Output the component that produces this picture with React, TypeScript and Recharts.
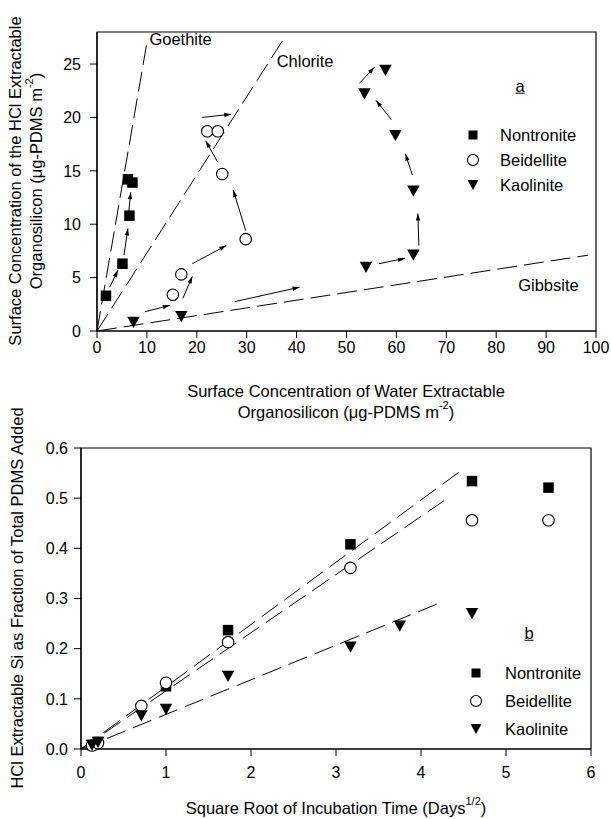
import { Fragment } from "react";
import {
  ScatterChart,
  Scatter,
  XAxis,
  YAxis,
  ReferenceLine,
  ReferenceArea,
  ReferenceDot,
  Legend,
} from "recharts";

const FONT = "'Liberation Sans', Arial, Helvetica, sans-serif";
const INK = "#000";

type Pt = { x: number; y: number };
type Seg = [number, number, number, number];

// ---- panel a: HCl vs water extractable organosilicon (µg-PDMS m-2) ----
const aTicksX = [0, 10, 20, 30, 40, 50, 60, 70, 80, 90, 100];
const aTicksY = [0, 5, 10, 15, 20, 25];

const aNontronite: Pt[] = [
  { x: 1.8, y: 3.3 },
  { x: 5.1, y: 6.3 },
  { x: 6.5, y: 10.8 },
  { x: 6.2, y: 14.2 },
  { x: 7.1, y: 13.9 },
];
const aBeidellite: Pt[] = [
  { x: 15.2, y: 3.4 },
  { x: 16.9, y: 5.3 },
  { x: 29.8, y: 8.6 },
  { x: 25.1, y: 14.7 },
  { x: 22.1, y: 18.7 },
  { x: 24.2, y: 18.7 },
];
const aKaolinite: Pt[] = [
  { x: 7.3, y: 0.8 },
  { x: 16.9, y: 1.35 },
  { x: 53.9, y: 5.95 },
  { x: 63.4, y: 7.1 },
  { x: 63.4, y: 13.1 },
  { x: 59.8, y: 18.3 },
  { x: 53.6, y: 22.2 },
  { x: 57.8, y: 24.4 },
];

// reference mineral lines through the origin, and where their names sit
const aGoethite: Seg = [0, 0, 10, 27];
const aChlorite: Seg = [0, 0, 37.2, 27.2];
const aGibbsite: Seg = [0, 0, 98.4, 7.1];
const aLineNames = [
  { name: "Goethite", x: 10.5, y: 27.3 },
  { name: "Chlorite", x: 36, y: 25.3 },
  { name: "Gibbsite", x: 84.4, y: 4.3 },
];

// arrows showing the order of sampling
const aArrows: Seg[] = [
  [2.55, 4.1, 4.2, 5.7],
  [5.4, 7.1, 6.2, 9.6],
  [6.2, 10.4, 6.75, 13.0],
  [17.2, 3.05, 19.1, 5.1],
  [19.1, 6.3, 25.9, 8.0],
  [29.8, 9.4, 27.3, 13.2],
  [24.2, 15.8, 21.8, 17.8],
  [21.1, 20.0, 26.9, 20.3],
  [9.6, 1.8, 14.6, 2.4],
  [27.6, 2.75, 40.6, 4.1],
  [56.5, 6.3, 61.7, 6.8],
  [64.5, 8.0, 64.3, 11.0],
  [63.2, 14.6, 61.8, 16.6],
  [59.0, 19.8, 55.9, 21.6],
  [52.6, 23.2, 55.6, 24.7],
];

// ---- panel b: HCl extractable fraction vs sqrt(days) ----
const bTicksX = [0, 1, 2, 3, 4, 5, 6];
const bTicksY = [0, 0.1, 0.2, 0.3, 0.4, 0.5, 0.6];

const bNontronite: Pt[] = [
  { x: 0.13, y: 0.008 },
  { x: 0.2, y: 0.014 },
  { x: 1.0, y: 0.125 },
  { x: 1.73, y: 0.237 },
  { x: 3.17, y: 0.408 },
  { x: 4.6, y: 0.534 },
  { x: 5.5, y: 0.521 },
];
const bBeidellite: Pt[] = [
  { x: 0.13, y: 0.007 },
  { x: 0.2, y: 0.012 },
  { x: 0.71, y: 0.086 },
  { x: 1.0, y: 0.132 },
  { x: 1.73, y: 0.213 },
  { x: 3.17, y: 0.361 },
  { x: 4.6, y: 0.456 },
  { x: 5.5, y: 0.456 },
];
const bKaolinite: Pt[] = [
  { x: 0.13, y: 0.007 },
  { x: 0.2, y: 0.013 },
  { x: 0.71, y: 0.066 },
  { x: 1.0, y: 0.079 },
  { x: 1.73, y: 0.145 },
  { x: 3.17, y: 0.203 },
  { x: 3.75, y: 0.245 },
  { x: 4.6, y: 0.27 },
];

const bFits: Seg[] = [
  [0, 0, 4.48, 0.556],
  [0, 0, 4.28, 0.496],
  [0, 0, 4.19, 0.289],
];

type MarkKind = "square" | "circle" | "triangle";
const legendRows: { name: string; mark: MarkKind }[] = [
  { name: "Nontronite", mark: "square" },
  { name: "Beidellite", mark: "circle" },
  { name: "Kaolinite", mark: "triangle" },
];

function glyph(kind: MarkKind, cx: number, cy: number, s: number) {
  if (kind === "square")
    return <rect x={cx - s / 2} y={cy - s / 2} width={s} height={s} fill={INK} />;
  if (kind === "circle")
    return (
      <circle cx={cx} cy={cy} r={s / 2} fill="#fff" stroke={INK} strokeWidth={1.1} />
    );
  const h = s * 0.9;
  return (
    <polygon
      points={`${cx - s / 2},${cy - h / 2} ${cx + s / 2},${cy - h / 2} ${cx},${cy + h / 2}`}
      fill={INK}
    />
  );
}

const SquareMark = (p: any) => (p.cx == null ? <g /> : glyph("square", p.cx, p.cy, 10.5));
const CircleMark = (p: any) => (p.cx == null ? <g /> : glyph("circle", p.cx, p.cy, 11.5));
const TriangleMark = (p: any) => (p.cx == null ? <g /> : glyph("triangle", p.cx, p.cy, 12.5));

function ArrowShape(p: any) {
  const { x1, y1, x2, y2 } = p;
  const a = Math.atan2(y2 - y1, x2 - x1);
  const len = 7;
  const w = 2.2;
  const bx = x2 - len * Math.cos(a);
  const by = y2 - len * Math.sin(a);
  const px = w * Math.sin(a);
  const py = w * Math.cos(a);
  return (
    <g>
      <line x1={x1} y1={y1} x2={x2} y2={y2} stroke={INK} strokeWidth={1} />
      <polygon points={`${x2},${y2} ${bx - px},${by + py} ${bx + px},${by - py}`} fill={INK} />
    </g>
  );
}

function PanelKey(props: {
  tag: string;
  tagX: number;
  tagY: number;
  markX: number;
  textX: number;
  rowY: number;
  rowGap: number;
}) {
  const { tag, tagX, tagY, markX, textX, rowY, rowGap } = props;
  return (
    <div style={{ position: "relative", fontFamily: FONT, fontSize: 16.5, color: INK }}>
      <span
        style={{
          position: "absolute",
          left: tagX,
          top: tagY,
          transform: "translate(-50%, -50%)",
          textDecoration: "underline",
          lineHeight: 1,
        }}
      >
        {tag}
      </span>
      {legendRows.map((r, i) => (
        <Fragment key={r.name}>
          <svg
            width={14}
            height={14}
            style={{ position: "absolute", left: markX - 7, top: rowY + i * rowGap - 7 }}
          >
            {glyph(r.mark, 7, 7, r.mark === "square" ? 9 : 11)}
          </svg>
          <span
            style={{
              position: "absolute",
              left: textX,
              top: rowY + i * rowGap,
              transform: "translateY(-50%)",
              whiteSpace: "nowrap",
              lineHeight: 1,
            }}
          >
            {r.name}
          </span>
        </Fragment>
      ))}
    </div>
  );
}

const tickStyle = { fill: INK, fontSize: 16, fontFamily: FONT };
const axisLine = { stroke: INK, strokeWidth: 1.2 };
const tickLine = { stroke: INK, strokeWidth: 1 };
const titleProps = { fontFamily: FONT, fontSize: 16.5, fill: INK };

const seg = (s: Seg) => [
  { x: s[0], y: s[1] },
  { x: s[2], y: s[3] },
];

// axis titles are wrapped in <g> so the label clone doesn't overwrite x/y
function PanelA() {
  return (
    <ScatterChart width={611} height={430} margin={{ top: 32, right: 15, bottom: 69, left: 40 }}>
      <XAxis
        type="number"
        dataKey="x"
        domain={[0, 100]}
        ticks={aTicksX}
        interval={0}
        height={30}
        tickSize={7}
        tickMargin={4}
        axisLine={axisLine}
        tickLine={tickLine}
        tick={tickStyle}
        label={
          <g>
            <text {...titleProps} x={346} y={391} textAnchor="middle" dominantBaseline="central">
              Surface Concentration of Water Extractable
            </text>
            <text {...titleProps} x={346} y={412} textAnchor="middle" dominantBaseline="central">
              Organosilicon (μg-PDMS m
              <tspan dy={-7} fontSize={11}>
                -2
              </tspan>
              <tspan dy={7}>)</tspan>
            </text>
          </g>
        }
      />
      <YAxis
        type="number"
        dataKey="y"
        domain={[0, 28]}
        ticks={aTicksY}
        interval={0}
        width={57}
        tickSize={7}
        tickMargin={9}
        axisLine={axisLine}
        tickLine={tickLine}
        tick={tickStyle}
        label={
          <g>
            <text
              {...titleProps}
              x={15}
              y={181}
              transform="rotate(-90 15 181)"
              textAnchor="middle"
              dominantBaseline="central"
            >
              Surface Concentration of the HCl Extractable
            </text>
            <text
              {...titleProps}
              x={36}
              y={181}
              transform="rotate(-90 36 181)"
              textAnchor="middle"
              dominantBaseline="central"
            >
              Organosilicon (μg-PDMS m
              <tspan dy={-7} fontSize={11}>
                -2
              </tspan>
              <tspan dy={7}>)</tspan>
            </text>
          </g>
        }
      />
      <ReferenceArea x1={0} x2={100} y1={0} y2={28} fill="none" stroke={INK} strokeWidth={1.2} />
      {[aGoethite, aChlorite, aGibbsite].map((s, i) => (
        <ReferenceLine
          key={`fit-${i}`}
          segment={seg(s)}
          stroke={INK}
          strokeWidth={1}
          strokeDasharray="20 7"
        />
      ))}
      {aArrows.map((s, i) => (
        <ReferenceLine key={`arr-${i}`} segment={seg(s)} shape={ArrowShape} />
      ))}
      {aLineNames.map((n) => (
        <ReferenceDot
          key={n.name}
          x={n.x}
          y={n.y}
          r={0}
          shape={(p: any) => (
            <text {...titleProps} x={p.cx} y={p.cy} dominantBaseline="central">
              {n.name}
            </text>
          )}
        />
      ))}
      <Scatter name="Nontronite" data={aNontronite} shape={SquareMark} isAnimationActive={false} />
      <Scatter name="Beidellite" data={aBeidellite} shape={CircleMark} isAnimationActive={false} />
      <Scatter name="Kaolinite" data={aKaolinite} shape={TriangleMark} isAnimationActive={false} />
      <Legend
        layout="horizontal"
        verticalAlign="middle"
        align="center"
        wrapperStyle={{ position: "absolute", left: 0, top: 0, width: 0, height: 0 }}
        content={() => (
          <PanelKey tag="a" tagX={520} tagY={86} markX={473} textX={500} rowY={135} rowGap={25} />
        )}
      />
    </ScatterChart>
  );
}

// panel b svg starts at page y=390 so its long rotated title fits
function PanelB() {
  return (
    <ScatterChart width={611} height={429} margin={{ top: 58, right: 20, bottom: 40, left: 21 }}>
      <XAxis
        type="number"
        dataKey="x"
        domain={[0, 6]}
        ticks={bTicksX}
        interval={0}
        height={30}
        tickSize={7}
        tickMargin={11}
        axisLine={axisLine}
        tickLine={tickLine}
        tick={tickStyle}
        label={
          <g>
            <text {...titleProps} x={336} y={418} textAnchor="middle" dominantBaseline="central">
              Square Root of Incubation Time (Days
              <tspan dy={-7} fontSize={11}>
                1/2
              </tspan>
              <tspan dy={7}>)</tspan>
            </text>
          </g>
        }
      />
      <YAxis
        type="number"
        dataKey="y"
        domain={[0, 0.6]}
        ticks={bTicksY}
        interval={0}
        width={60}
        tickSize={7}
        tickMargin={6}
        axisLine={axisLine}
        tickLine={tickLine}
        tick={tickStyle}
        tickFormatter={(v: number) => v.toFixed(1)}
        label={
          <g>
            <text
              {...titleProps}
              x={17}
              y={208}
              transform="rotate(-90 17 208)"
              textAnchor="middle"
              dominantBaseline="central"
            >
              HCl Extractable Si as Fraction of Total PDMS Added
            </text>
          </g>
        }
      />
      <ReferenceArea x1={0} x2={6} y1={0} y2={0.6} fill="none" stroke={INK} strokeWidth={1.2} />
      {bFits.map((s, i) => (
        <ReferenceLine
          key={`fit-${i}`}
          segment={seg(s)}
          stroke={INK}
          strokeWidth={1}
          strokeDasharray="20 8"
        />
      ))}
      <Scatter name="Nontronite" data={bNontronite} shape={SquareMark} isAnimationActive={false} />
      <Scatter name="Beidellite" data={bBeidellite} shape={CircleMark} isAnimationActive={false} />
      <Scatter name="Kaolinite" data={bKaolinite} shape={TriangleMark} isAnimationActive={false} />
      <Legend
        layout="horizontal"
        verticalAlign="middle"
        align="center"
        wrapperStyle={{ position: "absolute", left: 0, top: 0, width: 0, height: 0 }}
        content={() => (
          <PanelKey tag="b" tagX={529} tagY={243} markX={476} textX={505} rowY={283} rowGap={27.8} />
        )}
      />
    </ScatterChart>
  );
}

export default function App() {
  return (
    <div
      style={{
        position: "absolute",
        left: 0,
        top: 0,
        width: 611,
        height: 819,
        background: "#fff",
        fontFamily: FONT,
      }}
    >
      <div style={{ position: "absolute", left: 0, top: 0 }}>
        <PanelA />
      </div>
      <div style={{ position: "absolute", left: 0, top: 390 }}>
        <PanelB />
      </div>
    </div>
  );
}
